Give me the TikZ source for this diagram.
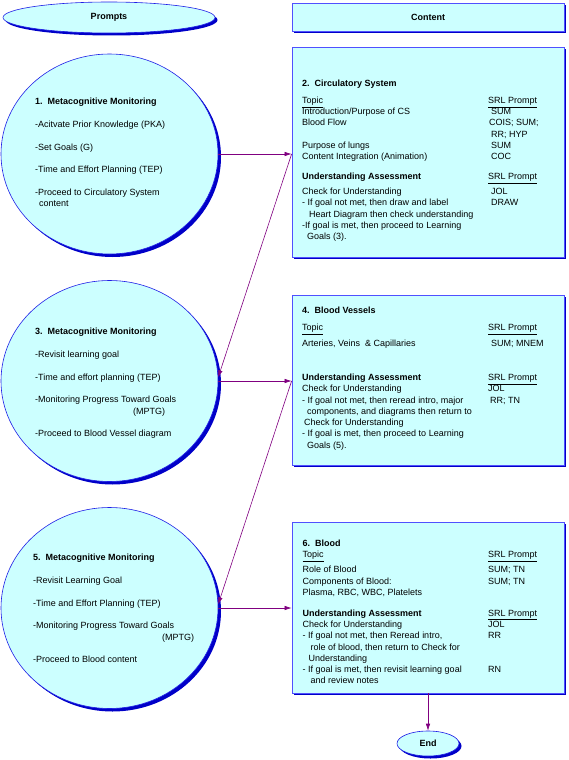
\documentclass[tikz,border=0pt]{standalone}
\usepackage{fontspec}
\setmainfont{Liberation Sans}
\usetikzlibrary{shapes.geometric,shadows,arrows.meta}
\definecolor{fillc}{RGB}{204,255,255}
\definecolor{boxedge}{RGB}{80,80,255}
\definecolor{elledge}{RGB}{30,30,230}
\definecolor{shadc}{RGB}{0,0,200}
\definecolor{arrc}{RGB}{128,0,128}
\begin{document}
\begin{tikzpicture}[x=1pt,y=-1pt,
  font=\fontsize{9}{11.25}\selectfont,
  shad/.style={drop shadow={shadow xshift=#1, shadow yshift=-#1, fill=shadc, opacity=1}},
  boxsh/.style={rectangle, draw=boxedge, line width=0.8pt, fill=fillc, inner sep=0pt, shad=2pt},
  ellsh/.style={ellipse, draw=elledge, line width=0.6pt, fill=fillc, inner sep=0pt},
  arr/.style={draw=arrc, line width=0.6pt, -{Latex[length=7pt,width=4.5pt]}},
  txt/.style={inner sep=0pt, anchor=base west}
]
\useasboundingbox (0,0) rectangle (568,760);

% headers
\node[ellsh, shad=2.5pt, minimum width=212, minimum height=31] (pr) at (109,17.5) {\textbf{Prompts}};
\node[boxsh, minimum width=272, minimum height=28] (ct) at (428,17) {\textbf{Content}};

% prompt circles
\node[ellsh, shad=3pt, minimum width=217, minimum height=200] (c1) at (109.5,154) {};
\node[ellsh, shad=3pt, minimum width=217, minimum height=201] (c3) at (109.5,381) {};
\node[ellsh, shad=3pt, minimum width=217, minimum height=201] (c5) at (109.5,608) {};

% content boxes
\node[boxsh, minimum width=272, minimum height=210] (b2) at (428,152) {};
\node[boxsh, minimum width=272, minimum height=170] (b4) at (428,380) {};
\node[boxsh, minimum width=272, minimum height=171] (b6) at (428,607.5) {};

% end
\node[ellsh, shad=2.5pt, minimum width=62, minimum height=25] (end) at (428,743.5) {\textbf{End}};

% circle texts
\node[txt] (t1) at (35,104.5) {\begin{tabular}[t]{@{}l@{}}
\textbf{1.\ \ Metacognitive Monitoring}\\[11.5pt]
-Acitvate Prior Knowledge (PKA)\\[11.5pt]
-Set Goals (G)\\[11.5pt]
-Time and Effort Planning (TEP)\\[11.5pt]
-Proceed to Circulatory System\\
\hspace*{4pt}content
\end{tabular}};

\node[txt] (t3) at (35,334.5) {\begin{tabular}[t]{@{}l@{}}
\textbf{3.\ \ Metacognitive Monitoring}\\[11.5pt]
-Revisit learning goal\\[11.5pt]
-Time and effort planning (TEP)\\[11.5pt]
-Monitoring Progress Toward Goals\\
\hspace*{98pt}(MPTG)\\[11.5pt]
-Proceed to Blood Vessel diagram
\end{tabular}};

\node[txt] (t5) at (33,560.5) {\begin{tabular}[t]{@{}l@{}}
\textbf{5.\ \ Metacognitive Monitoring}\\[11.5pt]
-Revisit Learning Goal\\[11.5pt]
-Time and Effort Planning (TEP)\\[11.5pt]
-Monitoring Progress Toward Goals\\
\hspace*{129pt}(MPTG)\\[11.5pt]
-Proceed to Blood content
\end{tabular}};

% box texts
\node[txt] (t2) at (302,86.5) {\begin{tabular}[t]{@{}p{186pt}@{}l@{}}
\textbf{2.\ \ Circulatory System} & \\[5.75pt]
\smash{\underline{Topic}} & \smash{\underline{SRL Prompt}}\\
Introduction/Purpose of CS & \hspace*{3pt}SUM\\
Blood Flow & \hspace*{1pt}COIS; SUM;\\
 & \hspace*{3pt}RR; HYP\\
Purpose of lungs & \hspace*{3pt}SUM\\
Content Integration (Animation) & \hspace*{3pt}COC\\[8.75pt]
\textbf{Understanding Assessment} & \smash{\underline{SRL Prompt}}\\[3.75pt]
Check for Understanding & \hspace*{3pt}JOL\\
- If goal not met, then draw and label & \hspace*{3pt}DRAW\\
\hspace*{7pt}Heart Diagram then check understanding & \\
-If goal is met, then proceed to Learning & \\
\hspace*{5pt}Goals (3). &
\end{tabular}};

\node[txt] (t4) at (302,313.5) {\begin{tabular}[t]{@{}p{186pt}@{}l@{}}
\textbf{4.\ \ Blood Vessels} & \\[5.75pt]
\smash{\underline{Topic}} & \smash{\underline{SRL Prompt}}\\[4.75pt]
Arteries, Veins\ \ \& Capillaries & \hspace*{3pt}SUM; MNEM\\[22.75pt]
\textbf{Understanding Assessment} & \smash{\underline{SRL Prompt}}\\
Check for Understanding & JOL\\
- If goal not met, then reread intro, major & \hspace*{2pt}RR; TN\\
\hspace*{5pt}components, and diagrams then return to & \\
\hspace*{2pt}Check for Understanding & \\
- If goal is met, then proceed to Learning & \\
\hspace*{5pt}Goals (5). &
\end{tabular}};

\node[txt] (t6) at (302.5,546.5) {\begin{tabular}[t]{@{}p{185.5pt}@{}l@{}}
\textbf{6.\ \ Blood} & \\
\smash{\underline{Topic}} & \smash{\underline{SRL Prompt}}\\[3.75pt]
Role of Blood & SUM; TN\\
Components of Blood: & SUM; TN\\
Plasma, RBC, WBC, Platelets & \\[9.75pt]
\textbf{Understanding Assessment} & \smash{\underline{SRL Prompt}}\\
Check for Understanding & JOL\\
- If goal not met, then Reread intro, & RR\\
\hspace*{8pt}role of blood, then return to Check for & \\
\hspace*{6pt}Understanding & \\
- If goal is met, then revisit learning goal & RN\\
\hspace*{8pt}and review notes &
\end{tabular}};

% connectors
\coordinate (p1) at (b2.west |- c1.east);
\coordinate (p3) at (b4.west |- c3.east);
\coordinate (p5) at (b6.west |- c5.east);
\draw[arr] (c1.east) -- (p1);
\draw[arr] (p1) -- (c3.2);
\draw[arr] (c3.east) -- (p3);
\draw[arr] (p3) -- (c5.2);
\draw[arr] (c5.east) -- (p5);
\draw[arr] (b6.south) -- (end.north);
\end{tikzpicture}
\end{document}
